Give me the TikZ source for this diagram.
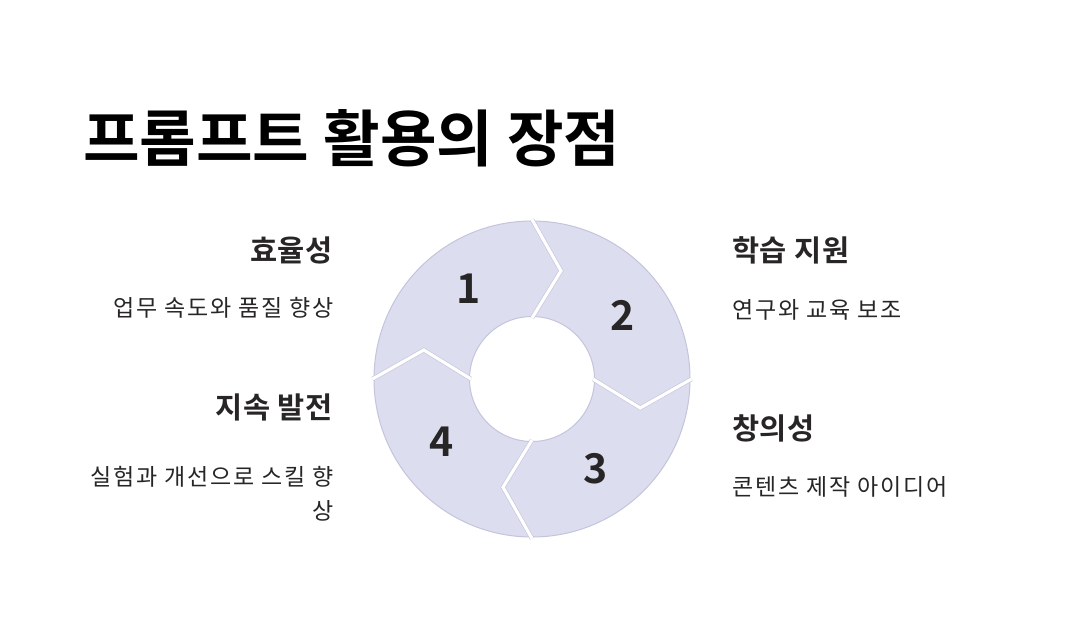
\documentclass[tikz,border=0pt]{standalone}
\usepackage{fontspec}
\setmainfont{Noto Sans CJK KR}
\newfontfamily\krb{Noto Sans CJK KR Bold}
\newfontfamily\krbh[LetterSpace=2]{Noto Sans CJK KR Bold}
\newfontfamily\krr[LetterSpace=8]{Noto Sans CJK KR}
\definecolor{segfill}{RGB}{221,221,240}
\definecolor{segline}{RGB}{196,196,220}
\definecolor{txt}{RGB}{39,37,37}
\begin{document}
\begin{tikzpicture}[x=1pt,y=1pt,
  seg/.style={fill=segfill,draw=segline,line width=1pt,line join=round},
  gapline/.style={draw=segline,line width=0.6pt,double=white,double distance=3.2pt,line join=miter},
  title/.style={inner sep=0pt,anchor=west,font=\krb\fontsize{61.5}{66}\selectfont,text=black},
  head/.style={inner sep=0pt,font=\krbh\fontsize{29.5}{34}\selectfont,text=txt},
  body/.style={inner sep=0pt,font=\krr\fontsize{23}{34}\selectfont,text=txt},
  num/.style={inner sep=0pt,font=\krb\fontsize{41}{44}\selectfont,text=txt}]
\useasboundingbox[fill=white] (0,0) rectangle (1070,-632);
\node[title] (t) at (83,-138) {프롬프트 활용의 장점};
\begin{scope}[shift={(532,-379)}]
  \foreach \s in {180,90,0,-90}{
    \pgfmathsetmacro{\e}{\s-90}
    \fill[seg] (\s:158) arc[start angle=\s,end angle=\e,radius=158pt]
      -- (\e-15:112) -- (\e:62.5) arc[start angle=\e,end angle=\s,radius=62.5pt]
      -- (\s-15:112) -- cycle;
  }
  \foreach \s in {180,90,0,-90}{
    \draw[gapline] (\s:159.5) -- (\s-15:112) -- (\s:61);
  }
  \node[num] (n1) at (125:110) {1};
  \node[num] (n2) at (35:110) {2};
  \node[num] (n3) at (-55:110) {3};
  \node[num] (n4) at (-145:110) {4};
\end{scope}
\node[head,anchor=east] (h1) at (333,-250) {효율성};
\node[body,anchor=east] (b1) at (334,-308) {업무 속도와 품질 향상};
\node[head,anchor=east] (h4) at (333,-407) {지속 발전};
\node[body,anchor=north east,align=right] (b4) at (334,-466) {실험과 개선으로 스킬 향\\상};
\node[head,anchor=west] (h2) at (732,-250) {학습 지원};
\node[body,anchor=west] (b2) at (732,-310) {연구와 교육 보조};
\node[head,anchor=west] (h3) at (732,-428) {창의성};
\node[body,anchor=west] (b3) at (732,-487) {콘텐츠 제작 아이디어};
\end{tikzpicture}
\end{document}
